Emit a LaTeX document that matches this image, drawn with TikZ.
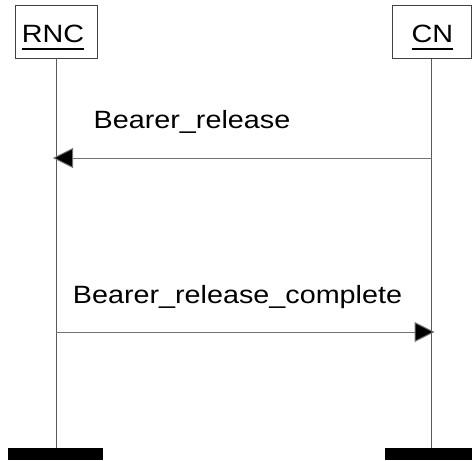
\documentclass[tikz,border=0pt]{standalone}
\usepackage{fontspec}
\setmainfont{Liberation Sans}
\usetikzlibrary{arrows.meta}
\newcommand{\wtext}[1]{\scalebox{1.15}[1]{\fontsize{25}{30}\selectfont #1}}
\tikzset{
  entbox/.style={draw=black!75, line width=0.9pt, minimum height=53pt, inner sep=0pt},
  enttext/.style={anchor=base, inner sep=0pt},
  lifeline/.style={draw=black!65, line width=1pt},
  endbar/.style={fill=black, draw=none, minimum height=12pt, inner sep=0pt},
  msg/.style={draw=black!55, line width=1pt, -{Triangle[length=20pt,width=20pt,fill=black]}, shorten >=-3pt},
  msglabel/.style={anchor=base, inner sep=0pt}
}
\begin{document}
\begin{tikzpicture}[x=1pt,y=-1pt]
\useasboundingbox (0,0) rectangle (472,461);
% entity boxes
\node[entbox, minimum width=82pt] (rncbox) at (56,31.5) {};
\node[entbox, minimum width=79pt] (cnbox) at (431.5,32) {};
\node[enttext] (rnct) at (53,42) {\wtext{RNC}};
\node[enttext] (cnt) at (432.5,42) {\wtext{CN}};
\draw[line width=2pt] ([yshift=-7pt]rnct.base west) -- ([yshift=-7pt]rnct.base east);
\draw[line width=2pt] ([yshift=-7pt]cnt.base west) -- ([yshift=-7pt]cnt.base east);
% end bars
\node[endbar, minimum width=95pt] (rncbar) at (55.5,454) {};
\node[endbar, minimum width=90pt] (cnbar) at (430,454) {};
% lifelines
\coordinate (rncend) at (56,448);
\coordinate (cnend) at (431.5,448);
\draw[lifeline] (rncbox.south) -- (rncend);
\draw[lifeline] (cnbox.south) -- (cnend);
% message anchor points
\coordinate (m1s) at (431.5,158);
\coordinate (m1e) at (56,158);
\coordinate (m2s) at (56,332);
\coordinate (m2e) at (431.5,332);
\draw[msg] (m1s) -- (m1e);
\draw[msg] (m2s) -- (m2e);
\node[msglabel] (l1) at (192,128) {\wtext{Bearer\_release}};
\node[msglabel] (l2) at (237.5,303) {\wtext{Bearer\_release\_complete}};
\end{tikzpicture}
\end{document}
